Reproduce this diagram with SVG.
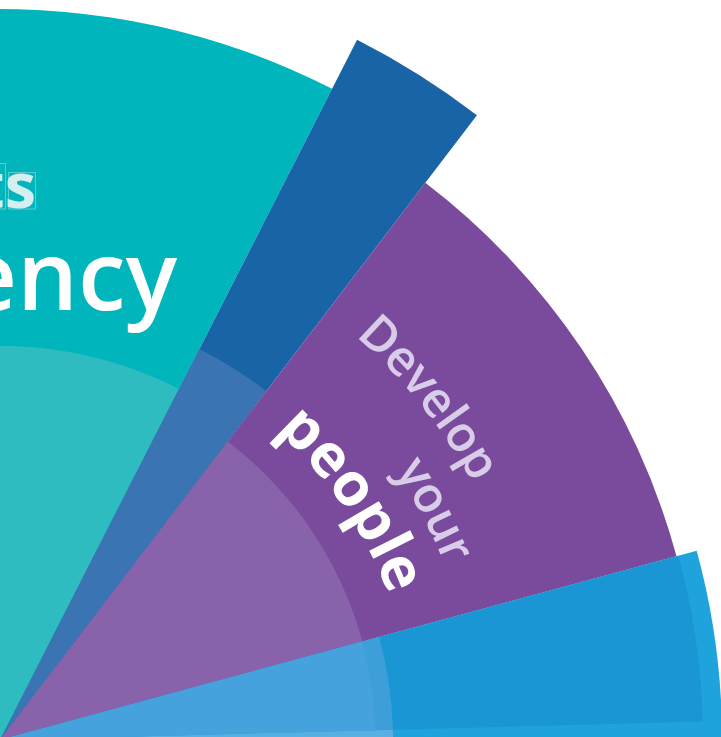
<svg xmlns="http://www.w3.org/2000/svg" width="721" height="737" viewBox="0 0 721 737">
<style>
.lbl{font-family:"Open Sans","Noto Sans","DejaVu Sans",sans-serif;}
.soft{font-weight:600;font-size:49px;fill:#d9cce8;letter-spacing:-0.5px;}
.big{font-weight:700;font-size:60px;fill:#ffffff;}
</style>
<defs>
<path id="arcDevelop" d="M355.3,336 A538,538 0 0 1 529.8,646.6"/>
<path id="arcYour" d="M394.9,470.6 A478,478 0 0 1 476.2,698.3"/>
<path id="arcPeople" d="M276.1,430.2 A415,415 0 0 1 413.4,703.8"/>
</defs>
<rect width="721" height="737" fill="#ffffff"/>
<g id="sector-teal">
<path d="M0,740 L332.1,88.8 A731,731 0 0 0 -731,740 Z" fill="#00b5bb"/>
<path d="M0,740 L179,389 A394,394 0 0 0 -394,740 Z" fill="#2fbcc0"/>
<g class="lbl">
<rect x="-30" y="163.5" width="35.5" height="45.5" fill="none" stroke="#5ccbcf" stroke-width="1"/>
<rect x="8.5" y="172.5" width="27" height="36.5" fill="none" stroke="#5ccbcf" stroke-width="1"/>
<text x="36" y="208" text-anchor="end" font-size="63" font-weight="700" fill="#d3eff0">ts</text>
<text x="177" y="310" text-anchor="end" font-size="96" font-weight="600" fill="#ffffff">ency</text>
</g>
</g>
<g id="sector-blue">
<path d="M0,740 L476.9,115.2 A786,786 0 0 0 357.1,39.8 Z" fill="#1964a6"/>
<path d="M0,740 L266.3,391 A439,439 0 0 0 199.4,348.9 Z" fill="#3a74b2"/>
</g>
<g id="sector-purple">
<path d="M0,740 L676.5,556.2 A701,701 0 0 0 425.3,182.8 Z" fill="#7a4a9c"/>
<path d="M0,740 L362.4,641.5 A375.5,375.5 0 0 0 227.8,441.5 Z" fill="#8862aa"/>
<g class="lbl">
<text class="soft"><textPath href="#arcDevelop">Develop</textPath></text>
<text class="soft"><textPath href="#arcYour">your</textPath></text>
<text class="big"><textPath href="#arcPeople">people</textPath></text>
</g>
</g>
<g id="sector-lightblue">
<path d="M0,740 L719.3,802.9 A722,722 0 0 0 696.7,550.7 Z" fill="#1fa3dc"/>
<path d="M0,740 L702.8,721.6 A703,703 0 0 0 678.4,555.7 Z" fill="#1a96d4"/>
<path d="M0,740 L391.5,773.3 A393,393 0 0 0 392.9,729.7 Z" fill="#58afe1"/>
<path d="M0,740 L392.9,729.7 A393,393 0 0 0 379.2,636.9 Z" fill="#3d9ed9"/>
<path d="M0,740 L374.9,730.2 A375,375 0 0 0 361.9,641.7 Z" fill="#46a2dc"/>
</g>
</svg>
